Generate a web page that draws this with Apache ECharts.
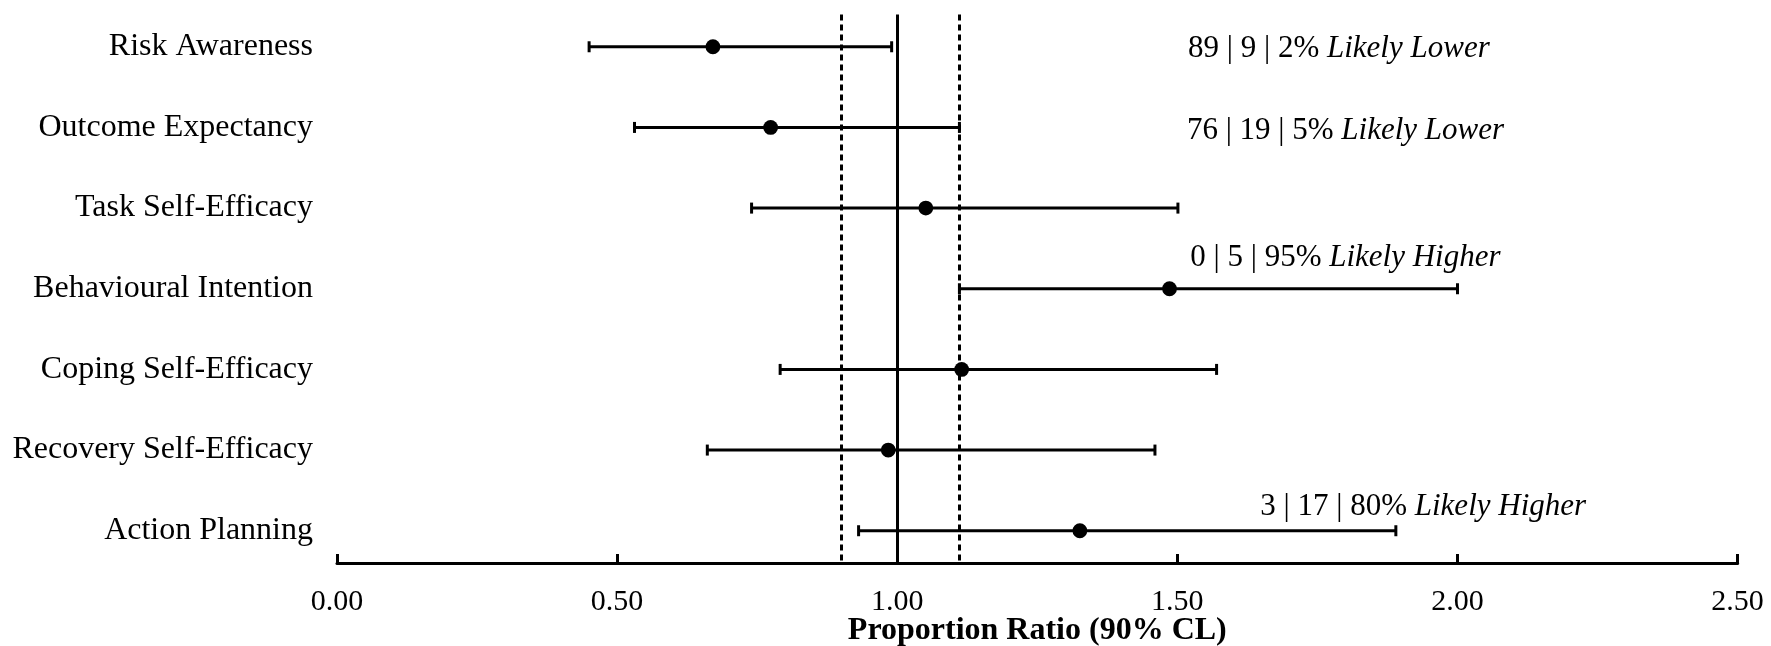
<!DOCTYPE html>
<html><head><meta charset="utf-8">
<script src="https://cdn.jsdelivr.net/npm/echarts@6/dist/echarts.min.js"></script>
<style>html,body{margin:0;padding:0;background:#fff}#c{width:1771px;height:646px}</style>
</head><body><div id="c"></div>
<script>
// ---- data ----
const categories = ['Risk Awareness','Outcome Expectancy','Task Self-Efficacy','Behavioural Intention','Coping Self-Efficacy','Recovery Self-Efficacy','Action Planning'];
const estimates = [0.671, 0.774, 1.051, 1.486, 1.115, 0.984, 1.326];
const lowerCL   = [0.450, 0.531, 0.740, 1.111, 0.791, 0.661, 0.931];
const upperCL   = [0.990, 1.111, 1.501, 2.000, 1.570, 1.460, 1.890];
const referenceLines = [0.9, 1.0, 1.111];
const annotationNumbers = ['89 | 9 | 2%', '76 | 19 | 5%', '', '0 | 5 | 95%', '', '', '3 | 17 | 80%'];
const annotationWords   = ['Likely Lower', 'Likely Lower', '', 'Likely Higher', '', '', 'Likely Higher'];
const xTickLabels = ['0.00','0.50','1.00','1.50','2.00','2.50'];

// ---- layout (label anchors, not marks) ----
const annotAnchorX = [1.519, 1.517, null, 1.523, null, null, 1.648];
const annotOffsetY = [2, 3, 0, -31, 0, 0, -24];

const FONT = '"Liberation Serif", "Times New Roman", Times, serif';

const barData = categories.map((c, i) => [i, lowerCL[i], estimates[i], upperCL[i]]);
const annotData = [];
categories.forEach((c, i) => {
  if (annotationNumbers[i]) annotData.push([annotAnchorX[i], i, annotOffsetY[i], i]);
});

const chart = echarts.init(document.getElementById('c'), null, {renderer: 'canvas'});
chart.setOption({
  animation: false,
  backgroundColor: '#fff',
  grid: {left: 337, right: 33.4, top: 14.5, bottom: 83, containLabel: false, outerBoundsMode: 'none'},
  xAxis: {
    type: 'value', min: 0, max: 2.5, interval: 0.5,
    axisLine: {show: true, onZero: false, lineStyle: {color: '#000', width: 3}},
    axisTick: {show: true, inside: true, length: 9, lineStyle: {color: '#000', width: 3}},
    splitLine: {show: false},
    axisLabel: {
      color: '#000', fontFamily: FONT, fontSize: 30, margin: 24,
      formatter: (v) => xTickLabels[Math.round(v / 0.5)]
    },
    name: 'Proportion Ratio (90% CL)', nameLocation: 'middle', nameGap: 52, nameMoveOverlap: false,
    nameTextStyle: {color: '#000', fontFamily: FONT, fontSize: 32, fontWeight: 'bold'}
  },
  yAxis: {
    type: 'value', inverse: true, min: -0.4, max: 6.4,
    axisLine: {show: false}, axisTick: {show: false}, splitLine: {show: false},
    axisLabel: {
      show: true, color: '#000', fontFamily: FONT, fontSize: 32, margin: 24,
      customValues: [0, 1, 2, 3, 4, 5, 6],
      formatter: (v) => categories[Math.round(v)]
    }
  },
  series: [
    {
      type: 'custom',
      z: 5,
      data: barData,
      encode: {x: [1, 2, 3], y: 0},
      renderItem: (params, api) => {
        const i = api.value(0);
        const pL = api.coord([api.value(1), i]);
        const pE = api.coord([api.value(2), i]);
        const pH = api.coord([api.value(3), i]);
        const cap = 5.5;
        const st = {stroke: '#000', lineWidth: 3};
        return {
          type: 'group',
          children: [
            {type: 'line', shape: {x1: pL[0], y1: pL[1], x2: pH[0], y2: pH[1]}, style: st},
            {type: 'line', shape: {x1: pL[0], y1: pL[1] - cap, x2: pL[0], y2: pL[1] + cap}, style: st},
            {type: 'line', shape: {x1: pH[0], y1: pH[1] - cap, x2: pH[0], y2: pH[1] + cap}, style: st},
            {type: 'circle', shape: {cx: pE[0], cy: pE[1], r: 7.4}, style: {fill: '#000'}}
          ]
        };
      },
      markLine: {
        silent: true, symbol: ['none', 'none'], label: {show: false}, z: 2,
        data: referenceLines.map((v) => ({
          xAxis: v,
          lineStyle: {color: '#000', width: 3, type: v === 1 ? 'solid' : [6, 4]}
        }))
      }
    },
    {
      type: 'custom',
      z: 6,
      silent: true,
      data: annotData,
      encode: {x: 0, y: 1},
      renderItem: (params, api) => {
        const idx = api.value(3);
        const p = api.coord([api.value(0), api.value(1)]);
        return {
          type: 'text',
          x: p[0], y: p[1] + api.value(2),
          style: {
            text: '{n|' + annotationNumbers[idx] + ' }{i|' + annotationWords[idx] + '}',
            fill: '#000', align: 'left', verticalAlign: 'middle',
            rich: {
              n: {fill: '#000', color: '#000', fontFamily: FONT, fontSize: 31},
              i: {fill: '#000', color: '#000', fontFamily: FONT, fontSize: 31, fontStyle: 'italic'}
            }
          }
        };
      }
    }
  ]
});
</script>
</body></html>
